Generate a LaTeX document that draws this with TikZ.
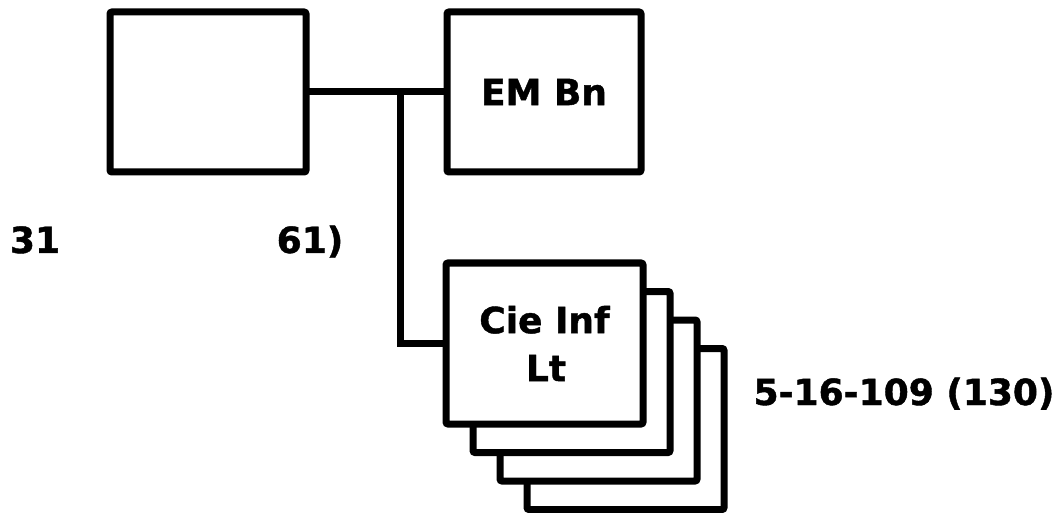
\documentclass[tikz,border=0pt]{standalone}
\usepackage{fontspec}
\setmainfont{DejaVu Sans}[BoldFeatures={FakeBold=1.2}]
\begin{document}
\begin{tikzpicture}[x=1pt,y=-1pt,
  unitbox/.style={draw=black, line width=7pt, rounded corners=2pt, fill=white,
    minimum width=197pt, minimum height=161pt, inner sep=0pt, outer sep=0pt,
    align=center, font=\fontsize{36}{48}\selectfont\bfseries},
  conn/.style={draw=black, line width=7pt},
  lbl/.style={font=\fontsize{36}{44}\selectfont\bfseries, inner sep=0pt, anchor=base}]
\useasboundingbox (0,0) rectangle (1063,513);
% headquarters box and EM Bn
\node[unitbox, minimum width=196pt, minimum height=160pt] (hq) at (208,92) {};
\node[unitbox, minimum width=194pt, minimum height=160pt] (em) at (544,92) {EM Bn};
% stacked companies (back to front)
\node[unitbox] (cie3) at (625.5,429) {};
\node[unitbox] (cie2) at (598.5,400.5) {};
\node[unitbox] (cie1) at (571.5,372) {};
\node[unitbox] (cie) at (544.5,343.5) {\raisebox{-2pt}{Cie Inf}\\\raisebox{-2pt}{\hspace{3pt}Lt}};
% connectors
\coordinate (j) at (400,92);
\draw[conn] (hq.east) -- (em.west);
\draw[conn] (j) |- (cie.west);
% labels
\node[lbl] (l31) at (35,253) {31};
\node[lbl] (l61) at (310,253) {61)};
\node[lbl] (lnum) at (904,405) {5-16-109 (130)};
\end{tikzpicture}
\end{document}
